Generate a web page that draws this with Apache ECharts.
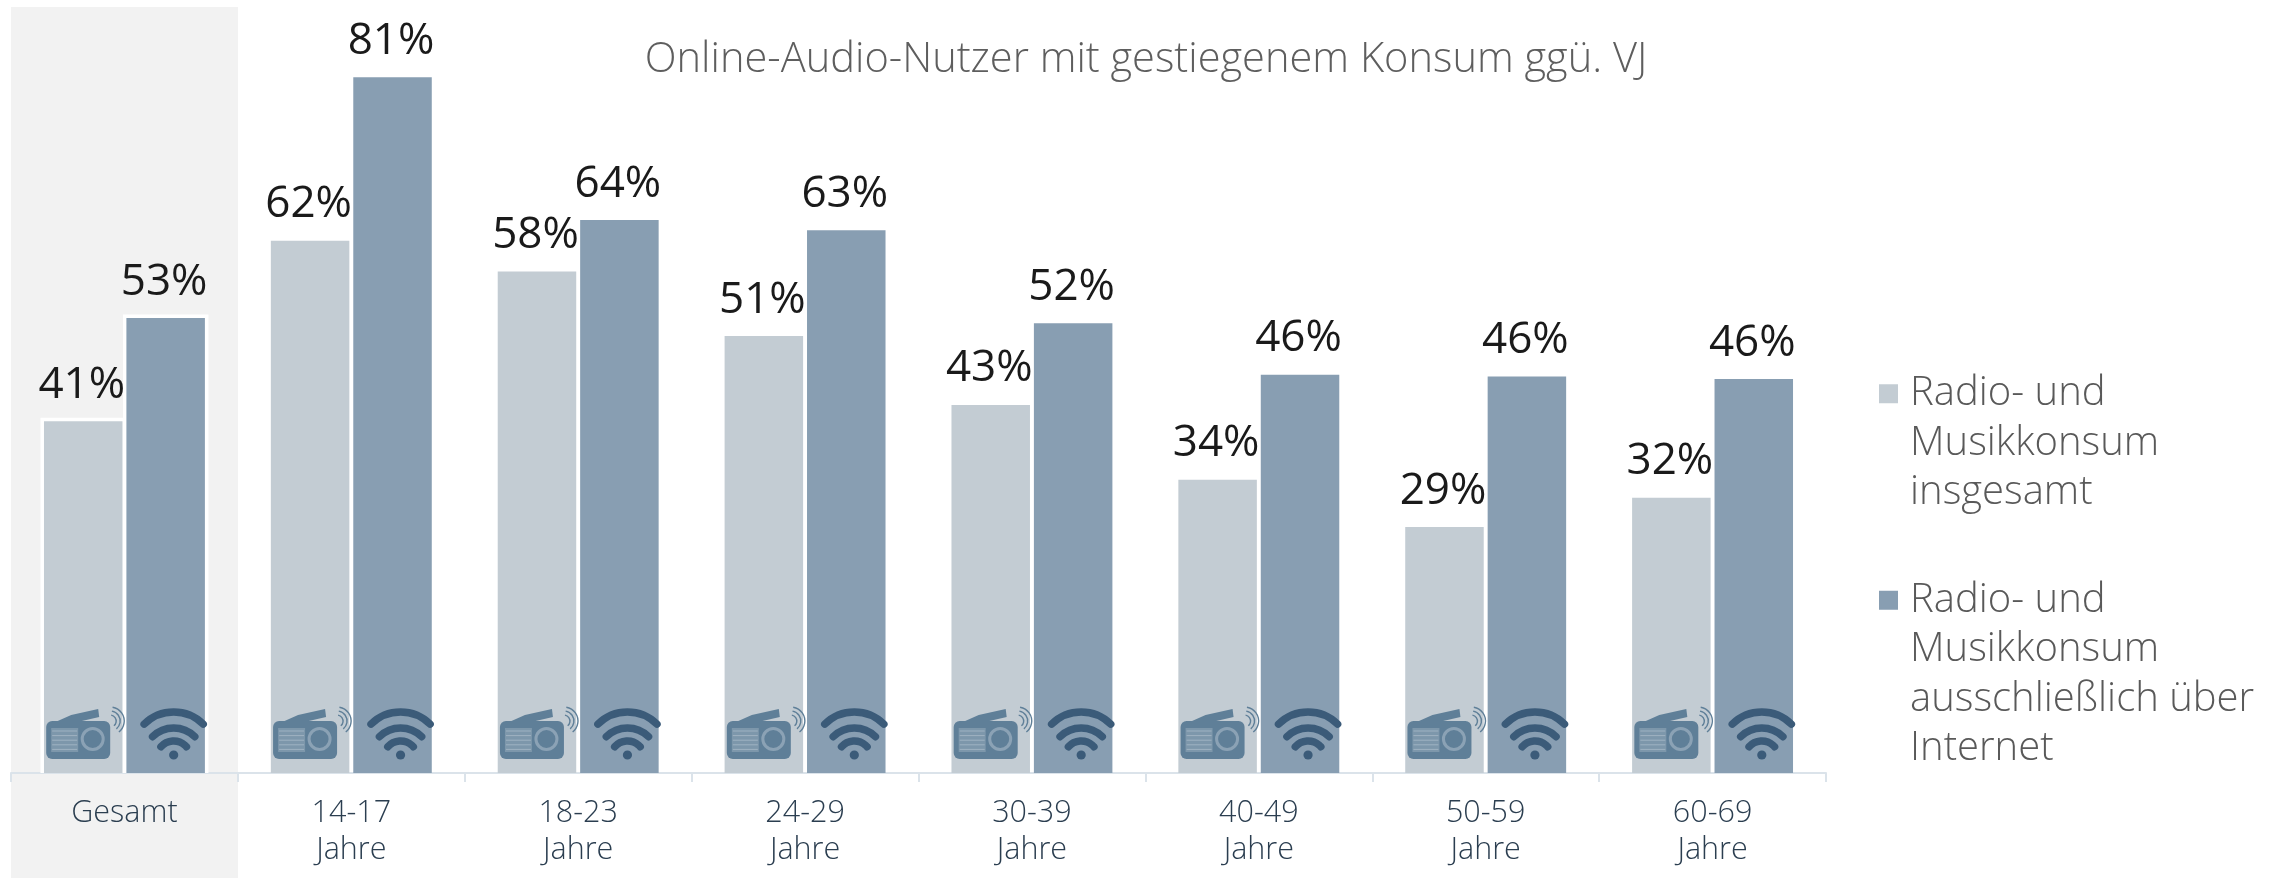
<!DOCTYPE html>
<html><head><meta charset="utf-8">
<style>html,body{margin:0;padding:0;background:#fff}#c{width:2279px;height:879px}</style>
<script src="https://cdn.jsdelivr.net/npm/echarts@6/dist/echarts.min.js"></script>
</head><body><div id="c"></div>
<script>
const categories = ['Gesamt','14-17\nJahre','18-23\nJahre','24-29\nJahre','30-39\nJahre','40-49\nJahre','50-59\nJahre','60-69\nJahre'];
const seriesTotal = [40.9,61.9,58.3,50.8,42.8,34.1,28.6,32];
const seriesOnline = [52.9,80.9,64.3,63.1,52.3,46.3,46.1,45.8];
const nameTotal = 'Radio- und Musikkonsum insgesamt';
const nameOnline = 'Radio- und Musikkonsum ausschließlich über Internet';
const legendTotal = ['','','Radio- und','Musikkonsum','insgesamt'];
const legendOnline = ['','','','Radio- und','Musikkonsum','ausschließlich über','Internet'];
const titleText = 'Online-Audio-Nutzer mit gestiegenem Konsum ggü. VJ';

const FONT = '"Open Sans", sans-serif';
const chart = echarts.init(document.getElementById('c'));
const pct = p => Math.round(p.value) + '%';
const labelStyle = {show:true, position:'top', distance:14, offset:[-1.5,0], formatter:pct, fontFamily:FONT, fontSize:44, color:'#1a1a1a'};
const legendBase = {orient:'vertical', left:1879, itemWidth:19, itemHeight:19, itemGap:0, icon:'rect', selectedMode:false, padding:0,
  textStyle:{fontFamily:FONT, fontWeight:300, fontSize:40, lineHeight:49.5, color:'#595959', padding:[0,0,0,7]}};

function renderOutline(params, api){
  const i = api.value(0);
  const c = api.coord([i, 0]);
  const w = api.size([1,0])[0];
  const off = w*0.1818, bw = w*0.346, pad = 3.5;
  const t1 = api.coord([i, seriesTotal[i]])[1], t2 = api.coord([i, seriesOnline[i]])[1];
  return {type:'group', children:[
    {type:'rect', shape:{x:c[0]-off-bw/2-pad,y:t1-pad,width:bw+pad*2,height:c[1]-t1+pad}, style:{fill:'#fff'}},
    {type:'rect', shape:{x:c[0]+off-bw/2-pad,y:t2-pad,width:bw+pad*2,height:c[1]-t2+pad}, style:{fill:'#fff'}}
  ]};
}

function renderIcons(params, api){
  const c = api.coord([api.value(0), 0]);
  const w = api.size([1,0])[0];
  const off = w*0.1818;
  const y = c[1];
  const rx = c[0]-off, wx = c[0]+off+8;
  const body = '#5f7f98', dark = '#3b5b79', ring = '#8ba2b5', grille = '#9fb2c2';
  const kids = [];
  // radio
  kids.push({type:'polygon', shape:{points:[[rx-30,y-50],[rx-12,y-58],[rx+15,y-64],[rx+16,y-56],[rx-10,y-50]]}, style:{fill:body}});
  kids.push({type:'rect', shape:{x:rx-37,y:y-52,width:64,height:38,r:6}, style:{fill:body}});
  kids.push({type:'rect', shape:{x:rx-32,y:y-45,width:27,height:24}, style:{fill:'#7d97ab'}});
  [0,1,2,3,4].forEach(i=>kids.push({type:'line', shape:{x1:rx-31,y1:y-42+i*4.6,x2:rx-6,y2:y-42+i*4.6}, style:{stroke:grille,lineWidth:1}}));
  kids.push({type:'circle', shape:{cx:rx+9.5,cy:y-34,r:10.5}, style:{fill:body,stroke:ring,lineWidth:3}});
  [6,10,14].forEach(r=>kids.push({type:'arc', shape:{cx:rx+27,cy:y-52,r:r,startAngle:-1.4,endAngle:0.9,clockwise:true}, style:{fill:null,stroke:body,lineWidth:1.4}}));
  // wifi
  [[42,0.78,-19],[30,0.78,-15],[17,0.85,-15]].forEach(a=>{
    kids.push({type:'arc', shape:{cx:wx,cy:y+a[2],r:a[0],startAngle:-Math.PI/2-a[1],endAngle:-Math.PI/2+a[1],clockwise:true},
      style:{fill:null,stroke:dark,lineWidth:7.5,lineCap:'round'}});
  });
  kids.push({type:'circle', shape:{cx:wx,cy:y-18,r:4.6}, style:{fill:dark}});
  return {type:'group', children:kids};
}

chart.setOption({
  animation:false,
  backgroundColor:'#fff',
  title:{text:titleText, left:1141, top:34, textAlign:'center',
    textStyle:{fontFamily:FONT, fontWeight:300, fontSize:41.6, color:'#5e5e5e'}},
  graphic:[{type:'rect', z:-10, silent:true, shape:{x:11,y:7,width:227,height:871}, style:{fill:'#f2f2f2'}}],
  legend:[
    Object.assign({}, legendBase, {top:270, data:[nameTotal], formatter:()=>legendTotal.join('\n')}),
    Object.assign({}, legendBase, {top:427, data:[nameOnline], formatter:()=>legendOnline.join('\n')})
  ],
  grid:{left:11, width:1815, top:42, height:731, containLabel:false},
  xAxis:{type:'category', data:categories, offset:2,
    axisLine:{lineStyle:{color:'#dbe3ea',width:2}},
    axisTick:{show:true,alignWithLabel:false,length:9,lineStyle:{color:'#dbe3ea',width:2}},
    axisLabel:{interval:0, margin:19, fontFamily:FONT, fontWeight:300, fontSize:30.5, lineHeight:37.7, color:'#2b3e50', verticalAlign:'top'}},
  yAxis:{type:'value', min:0, max:85, show:false},
  series:[
    {type:'custom', silent:true, z:1, clip:false, renderItem:renderOutline, data:[[0,0]], encode:{x:0,y:1}},
    {name:nameTotal, type:'bar', z:2, data:seriesTotal, barWidth:78.5, barGap:'5%',
      itemStyle:{color:'#c3ccd3'}, label:labelStyle},
    {name:nameOnline, type:'bar', z:2, data:seriesOnline, barWidth:78.5,
      itemStyle:{color:'#889eb2'}, label:labelStyle},
    {type:'custom', silent:true, z:5, clip:false, renderItem:renderIcons,
      data:categories.map((c,i)=>[i,0]), encode:{x:0,y:1}}
  ]
});
</script></body></html>
